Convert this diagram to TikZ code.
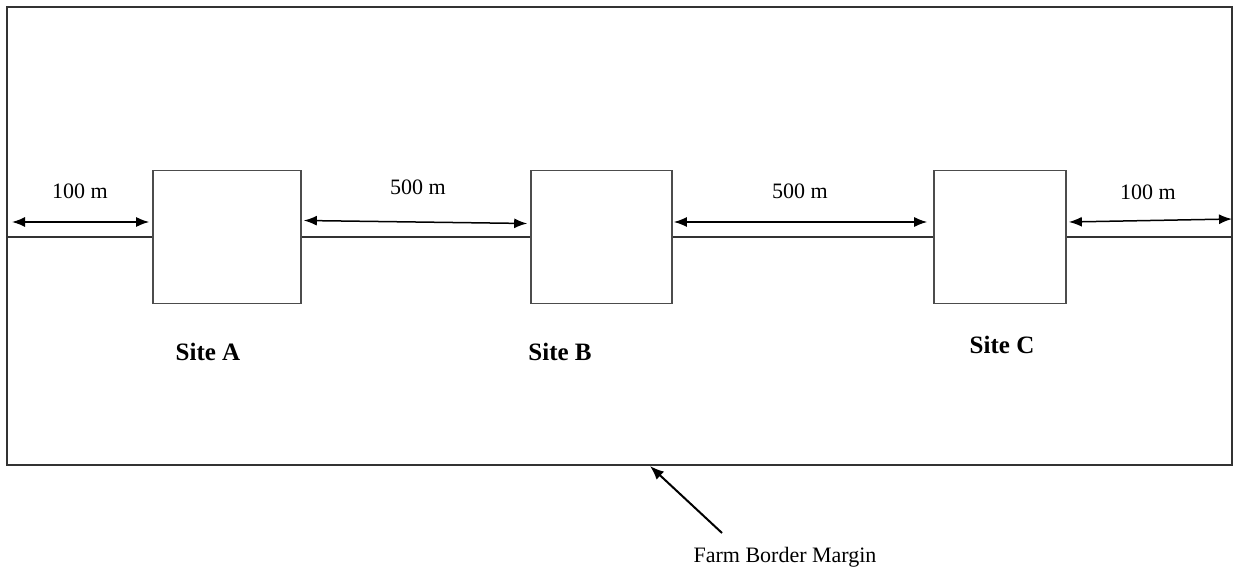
\documentclass[tikz,border=0pt]{standalone}
\usepackage{fontspec}
\setmainfont{Liberation Serif}
\usetikzlibrary{arrows.meta}

\begin{document}
\begin{tikzpicture}[x=0.5pt, y=-0.5pt,
site/.style={draw=black!70, line width=0.8pt, fill=white, inner sep=0pt, minimum height=66.5pt},
dist/.style={{Latex[length=6.5pt,width=5pt]}-{Latex[length=6.5pt,width=5pt]}, line width=0.75pt},
lbl/.style={font=\fontsize{11}{13}\selectfont},
sitelbl/.style={font=\fontsize{12.5}{15}\selectfont\bfseries}
]
\useasboundingbox (0,0) rectangle (1235,572);

% farm border
\coordinate (farm_nw) at (7,7);
\coordinate (farm_se) at (1232,465);
\draw[draw=black!80, line width=0.8pt] (farm_nw) rectangle (farm_se);

% sites
\node[site, minimum width=74pt](site_a) at (227,237){};
\node[site, minimum width=70.5pt](site_b) at (601.5,237){};
\node[site, minimum width=66pt](site_c) at (1000,237){};

\coordinate (farm_w) at (7,237);
\coordinate (farm_e) at (1232,237);
\draw[draw=black!80, line width=0.9pt] (farm_w) -- (site_a.west) (site_a.east) -- (site_b.west)
  (site_b.east) -- (site_c.west) (site_c.east) -- (farm_e);

% distances
\draw[dist] ([xshift=2.5pt,yshift=7.5pt]farm_w) -- ([xshift=-1.5pt,yshift=7.5pt]site_a.west);
\draw[dist] ([xshift=1pt,yshift=8.25pt]site_a.east) -- ([xshift=-1.5pt,yshift=6.75pt]site_b.west);
\draw[dist] ([xshift=0.5pt,yshift=7.5pt]site_b.east) -- ([xshift=-3pt,yshift=7.5pt]site_c.west);
\draw[dist] ([xshift=1pt,yshift=7.5pt]site_c.east) -- ([yshift=9pt]farm_e);

\node[lbl](d_a) at (80,191){100 m};
\node[lbl](d_ab) at (418,187){500 m};
\node[lbl](d_bc) at (800,191){500 m};
\node[lbl](d_c) at (1148,192){100 m};

\node[sitelbl](lbl_a) at (208,352){Site A};
\node[sitelbl](lbl_b) at (560,352){Site B};
\node[sitelbl](lbl_c) at (1002,345){Site C};

% border label
\node[lbl](margin) at (785,557){Farm Border Margin};
\coordinate (margin_tail) at (722,533);
\coordinate (margin_tip) at (650,466);
\draw[-{Latex[length=7pt,width=5.5pt]}, line width=1pt] (margin_tail) -- (margin_tip);
\end{tikzpicture}
\end{document}
